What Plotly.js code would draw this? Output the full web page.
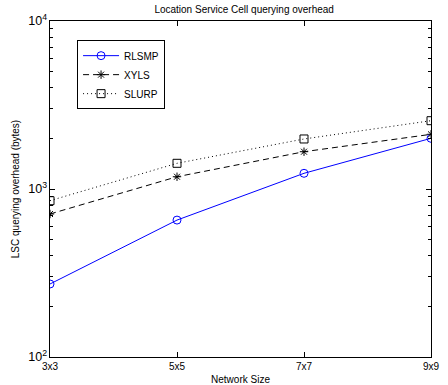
<!DOCTYPE html>
<html><head><meta charset="utf-8">
<script src="https://cdn.plot.ly/plotly-3.0.1.min.js"></script>
<style>html,body{margin:0;padding:0;background:#fff}#c{width:448px;height:385px}</style>
</head><body><div id="c"></div>
<script>
const categories = ["3x3", "5x5", "7x7", "9x9"];
const rlsmp = [272, 653, 1240, 2003];
const xyls = [710, 1183, 1667, 2116];
const slurp = [852, 1422, 1985, 2550];

const F = "Liberation Sans, Arial, Helvetica, sans-serif";
const traces = [
  {x: categories, y: rlsmp, name: "RLSMP", mode: "lines+markers", type: "scatter",
   line: {color: "#0000ff", width: 1}, marker: {symbol: "circle-open", size: 8, color: "#0000ff", line: {width: 1}}},
  {x: categories, y: xyls, name: "XYLS", mode: "lines+markers", type: "scatter",
   line: {color: "#000", width: 1, dash: "6px,4px"}, marker: {symbol: "asterisk-open", size: 7, color: "#000", line: {width: 1}}},
  {x: categories, y: slurp, name: "SLURP", mode: "lines+markers", type: "scatter",
   line: {color: "#000", width: 1, dash: "1px,3px"}, marker: {symbol: "square-open", size: 8, color: "#000", line: {width: 1}}},
  {x: categories, y: rlsmp, yaxis: "y2", mode: "markers", type: "scatter", showlegend: false,
   hoverinfo: "skip", marker: {opacity: 0, size: 1}}
];
const yCommon = {type: "log", range: [2, 4], dtick: 1, exponentformat: "power", showgrid: false, zeroline: false,
  ticks: "inside", ticklen: 5, tickcolor: "#000",
  minor: {ticks: "inside", ticklen: 3, tickcolor: "#000", showgrid: false}};
const layout = {
  width: 448, height: 385,
  margin: {l: 50, r: 17, t: 21, b: 28},
  paper_bgcolor: "#fff", plot_bgcolor: "#fff",
  font: {family: F, size: 10, color: "#000"},
  title: {text: "Location Service Cell querying overhead", font: {family: F, size: 10}, x: 0.545, xanchor: "center", y: 0.985, yanchor: "top"},
  showlegend: true,
  legend: {x: 0.071, y: 0.943, xanchor: "left", yanchor: "top", bordercolor: "#000", borderwidth: 1, bgcolor: "#fff",
           font: {family: F, size: 10}, tracegroupgap: 0, itemwidth: 36},
  xaxis: {type: "category", range: [0, 3], showgrid: false, zeroline: false,
          showline: true, linecolor: "#000", linewidth: 1, mirror: "ticks",
          ticks: "inside", ticklen: 5, tickcolor: "#000",
          title: {text: "Network Size", font: {family: F, size: 10}, standoff: 4}},
  yaxis: Object.assign({}, yCommon, {showline: true, linecolor: "#000", linewidth: 1, mirror: true,
          title: {text: "LSC querying overhead (bytes)", font: {family: F, size: 10}, standoff: 6}}),
  yaxis2: Object.assign({}, yCommon, {overlaying: "y", side: "right", showticklabels: false, showline: false})
};
Plotly.newPlot("c", traces, layout, {displayModeBar: false, staticPlot: true});
</script></body></html>
